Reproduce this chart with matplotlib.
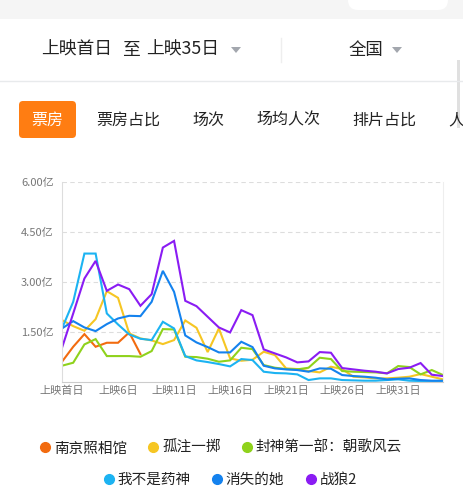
import matplotlib
matplotlib.use('Agg')
import matplotlib.pyplot as plt
from matplotlib.patches import FancyBboxPatch, Polygon, Rectangle
from matplotlib.lines import Line2D

plt.rcParams['font.family'] = ['Noto Sans CJK SC', 'DejaVu Sans']

# 数据（单位：亿）
days = list(range(1, 36))
nanjing = [0.60, 1.05, 1.43, 1.05, 1.17, 1.17, 1.48, 0.83]
guzhu = [1.85, 1.67, 1.53, 1.88, 2.72, 2.52, 1.45, 1.30, 1.24, 1.13, 1.25, 1.84, 1.62, 0.89, 1.60,
         0.70, 0.63, 0.66, 0.90, 0.80, 0.40, 0.38, 0.32, 0.28, 0.45, 0.38, 0.15, 0.13, 0.10, 0.10,
         0.12, 0.15, 0.23, 0.15, 0.07]
fengshen = [0.48, 0.57, 1.12, 1.28, 0.77, 0.77, 0.77, 0.75, 0.92, 1.58, 1.57, 0.75, 0.74, 0.69, 0.60,
            0.64, 1.02, 0.98, 0.50, 0.42, 0.38, 0.37, 0.42, 0.72, 0.68, 0.32, 0.30, 0.29, 0.28, 0.25,
            0.47, 0.44, 0.22, 0.35, 0.20]
yaoshen = [1.60, 2.40, 3.85, 3.85, 2.05, 1.72, 1.42, 1.29, 1.25, 1.80, 1.60, 0.77, 0.64, 0.59, 0.53,
           0.46, 0.68, 0.65, 0.30, 0.26, 0.25, 0.22, 0.05, 0.10, 0.10, 0.05, 0.04, 0.03, 0.03, 0.05,
           0.07, 0.03, 0.02, 0.02, 0.02]
xiaoshi = [1.60, 1.82, 1.63, 1.52, 1.73, 1.90, 1.98, 1.97, 2.40, 3.33, 2.70, 1.39, 1.18, 1.04, 0.88,
           0.88, 1.20, 1.04, 0.48, 0.40, 0.37, 0.35, 0.30, 0.40, 0.39, 0.20, 0.17, 0.15, 0.12, 0.07,
           0.09, 0.10, 0.05, 0.03, 0.03]
zhanlang = [1.02, 2.05, 3.10, 3.63, 2.73, 2.92, 2.78, 2.28, 2.63, 4.03, 4.23, 2.43, 2.27, 1.95, 1.63,
            1.48, 2.15, 2.00, 0.97, 0.85, 0.73, 0.58, 0.61, 0.89, 0.87, 0.41, 0.37, 0.33, 0.30, 0.25,
            0.38, 0.42, 0.56, 0.21, 0.17]

series_names = ['南京照相馆', '孤注一掷', '封神第一部：朝歌风云', '我不是药神', '消失的她', '战狼2']
series_values = [nanjing, guzhu, fengshen, yaoshen, xiaoshi, zhanlang]
series_colors = ['#f26b0f', '#f6c623', '#8fd21c', '#1cb3f2', '#1482ee', '#8a1cf3']

y_ticks = [1.5, 3.0, 4.5, 6.0]
x_tick_days = [1, 6, 11, 16, 21, 26, 31]
x_tick_labels = ['上映首日', '上映6日', '上映11日', '上映16日', '上映21日', '上映26日', '上映31日']
tabs = ['票房', '票房占比', '场次', '场均人次', '排片占比', '人']
tab_x = [47, 128, 208, 288, 384, 448]

W, H = 464, 500
fig = plt.figure(figsize=(W / 100, H / 100), dpi=100)

# 页面背景（像素坐标）
bg = fig.add_axes([0, 0, 1, 1])
bg.set_xlim(0, W)
bg.set_ylim(H, 0)
bg.axis('off')
bg.add_patch(Rectangle((0, 0), W, 19, color='#f5f5f5', lw=0))
bg.add_patch(FancyBboxPatch((348, -12), 100, 22, boxstyle='round,pad=0,rounding_size=10',
                            fc='white', ec='none'))

# 头部筛选
for t, x in [('上映首日', 41), ('至', 122), ('上映35日', 146)]:
    bg.text(x, 50, t, fontsize=12.8, color='#222222', va='center', ha='left')
bg.add_patch(Polygon([[231, 47], [241, 47], [236, 53]], closed=True, fc='#a3a7ae', ec='none'))
bg.plot([281, 281], [38, 62], color='#eeeeee', lw=1)
bg.text(349, 50, '全国', fontsize=12.5, color='#222222', va='center', ha='left')
bg.add_patch(Polygon([[392, 47], [402, 47], [397, 53]], closed=True, fc='#a3a7ae', ec='none'))
bg.plot([0, W], [81, 81], color='#e8eaec', lw=1)
bg.add_patch(Rectangle((457, 60), 3, 68, color='#e0e0e0', lw=0))

# 标签页
bg.add_patch(FancyBboxPatch((19, 101), 57, 37, boxstyle='round,pad=0,rounding_size=4',
                            fc='#ff7d12', ec='none'))
for i, (t, x) in enumerate(zip(tabs, tab_x)):
    bg.text(x, 120, t, fontsize=11.5, color='white' if i == 0 else '#222222',
            ha='center' if i < 5 else 'left', va='center')

# 折线图
ax = fig.add_axes([62 / W, 1 - 381.7 / H, (443 - 62) / W, (381.7 - 182) / H])
for name, vals, c in zip(series_names, series_values, series_colors):
    ax.plot(days[:len(vals)], vals, color=c, lw=1.5, label=name, solid_joinstyle='miter')

ax.set_xlim(1, 35)
ax.set_ylim(0, 6)
ax.set_yticks(y_ticks)
ax.set_yticklabels(['%.2f亿' % v for v in y_ticks], fontsize=8, color='#777777')
ax.set_xticks(x_tick_days)
ax.set_xticklabels(x_tick_labels, fontsize=8, color='#777777')
ax.tick_params(length=0)
ax.tick_params(axis='y', pad=6)
ax.tick_params(axis='x', pad=3)
ax.grid(True, axis='y', color='#dddddd', linestyle=(0, (4, 3)), lw=0.8)
ax.spines['top'].set_visible(False)
ax.spines['left'].set_color('#dddddd')
ax.spines['right'].set_color('#eeeeee')
ax.spines['bottom'].set_color('#cccccc')

# 图例
handles = [Line2D([], [], ls='none', marker='o', ms=7, color=c) for c in series_colors]
fig.legend(handles[:3], series_names[:3], loc='center', bbox_to_anchor=(0.474, 1 - 448 / H),
           ncol=3, frameon=False, fontsize=10.5, handletextpad=0.1, columnspacing=1.3,
           handlelength=1.0)
fig.legend(handles[3:], series_names[3:], loc='center', bbox_to_anchor=(0.494, 1 - 480 / H),
           ncol=3, frameon=False, fontsize=10.5, handletextpad=0.1, columnspacing=1.3,
           handlelength=1.0)
for leg in fig.legends:
    for t in leg.get_texts():
        t.set_color('#222222')

fig.savefig('out.png', dpi=100)
